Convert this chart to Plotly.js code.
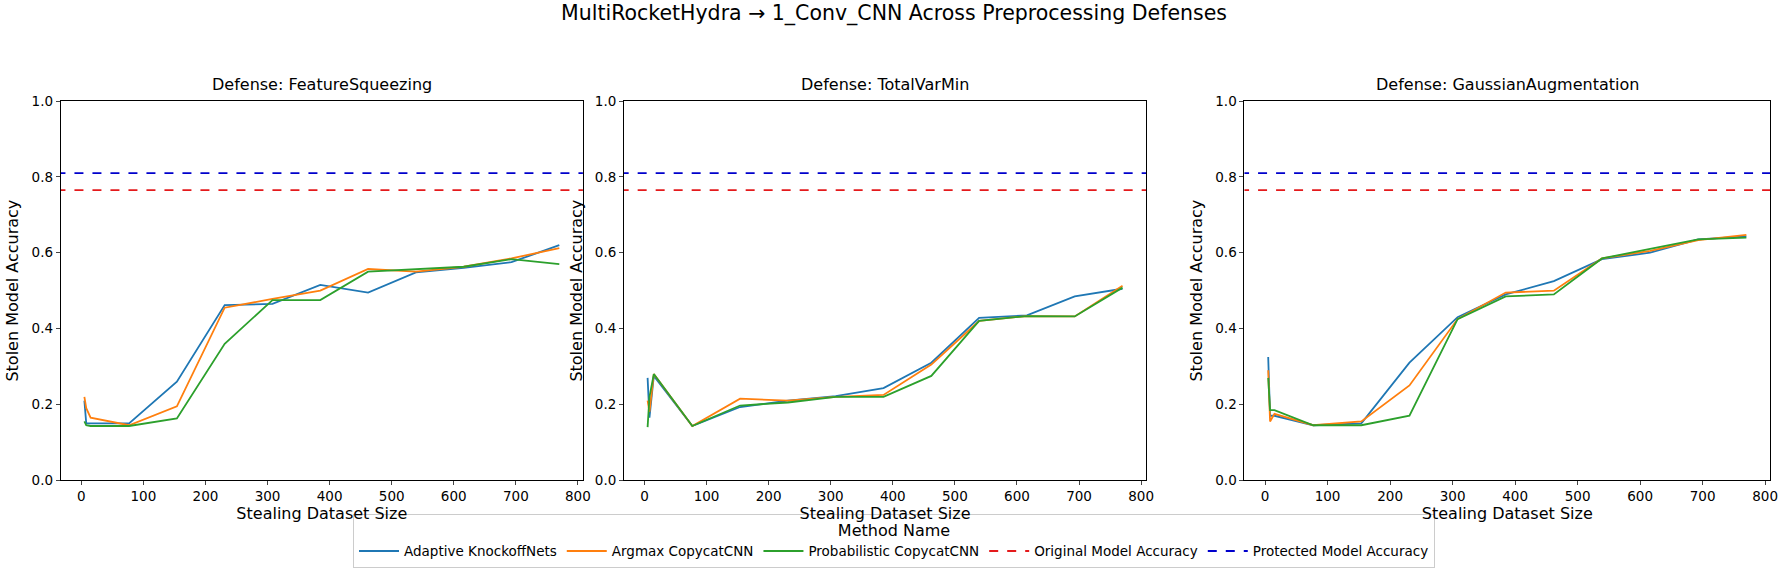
<!DOCTYPE html>
<html>
<head>
<meta charset="utf-8">
<script src="https://cdn.plot.ly/plotly-3.0.1.min.js"></script>
<style>body{margin:0}#chart{width:1788px;height:571px}</style>
</head>
<body>
<div id="chart"></div>
<script>
const sizes = [5, 8, 15, 77, 154, 231, 308, 385, 462, 539, 616, 693, 770]
const defenses = ['FeatureSqueezing', 'TotalVarMin', 'GaussianAugmentation']
const methods = ['Adaptive KnockoffNets', 'Argmax CopycatCNN', 'Probabilistic CopycatCNN']
const colors = ['#1f77b4', '#ff7f0e', '#2ca02c']

const featureSqueezing = [
  [0.21, 0.15, 0.15, 0.15, 0.26, 0.462, 0.465, 0.515, 0.495, 0.548, 0.56, 0.575, 0.62],
  [0.22, 0.19, 0.165, 0.145, 0.195, 0.455, 0.478, 0.5, 0.557, 0.55, 0.563, 0.585, 0.612],
  [0.155, 0.145, 0.143, 0.143, 0.163, 0.36, 0.475, 0.475, 0.55, 0.557, 0.563, 0.583, 0.57],
]
const totalVarMin = [
  [0.27, 0.165, 0.275, 0.143, 0.193, 0.21, 0.222, 0.243, 0.31, 0.428, 0.435, 0.485, 0.505],
  [0.21, 0.18, 0.28, 0.143, 0.215, 0.21, 0.22, 0.225, 0.305, 0.42, 0.433, 0.432, 0.513],
  [0.14, 0.22, 0.28, 0.143, 0.197, 0.205, 0.22, 0.22, 0.275, 0.42, 0.433, 0.432, 0.508],
]
const gaussianAugmentation = [
  [0.325, 0.17, 0.17, 0.145, 0.15, 0.31, 0.43, 0.49, 0.525, 0.583, 0.6, 0.635, 0.643],
  [0.29, 0.155, 0.175, 0.145, 0.155, 0.25, 0.425, 0.495, 0.5, 0.585, 0.605, 0.633, 0.647],
  [0.27, 0.185, 0.185, 0.145, 0.145, 0.17, 0.425, 0.485, 0.49, 0.585, 0.61, 0.635, 0.64],
]
const originalAcc = 0.765
const protectedAcc = 0.81

const results = [featureSqueezing, totalVarMin, gaussianAugmentation]
const domains = [[0.034, 0.326], [0.349, 0.641], [0.696, 0.990]]
const font = { family: 'DejaVu Sans', size: 13.5, color: '#000' }

const traces = []
const layout = {
  width: 1788, height: 571,
  margin: { l: 0, r: 0, t: 0, b: 0 },
  paper_bgcolor: '#fff', plot_bgcolor: '#fff',
  font,
  showlegend: true,
  legend: {
    orientation: 'h', x: 0.5, xanchor: 'center', y: 0.1, yanchor: 'top',
    bordercolor: '#ccc', borderwidth: 1, font: { size: 13.5 }, itemwidth: 40,
    title: { text: 'Method Name', side: 'top center' },
  },
  title: { text: 'MultiRocketHydra → 1_Conv_CNN Across Preprocessing Defenses', x: 0.5, y: 0.99, yanchor: 'top', font: { size: 20.5 } },
  annotations: [],
}

defenses.forEach((d, k) => {
  const ax = k === 0 ? '' : String(k + 1)
  results[k].forEach((ys, m) => {
    traces.push({
      x: sizes, y: ys, type: 'scatter', mode: 'lines', name: methods[m],
      line: { color: colors[m], width: 1.8 }, xaxis: 'x' + ax, yaxis: 'y' + ax, showlegend: k === 0,
    })
  })
  traces.push({ x: [-40, 810], y: [originalAcc, originalAcc], type: 'scatter', mode: 'lines', name: 'Original Model Accuracy',
    line: { color: '#e41a1c', width: 1.8, dash: 'dash' }, xaxis: 'x' + ax, yaxis: 'y' + ax, showlegend: k === 0 })
  traces.push({ x: [-40, 810], y: [protectedAcc, protectedAcc], type: 'scatter', mode: 'lines', name: 'Protected Model Accuracy',
    line: { color: '#0000cc', width: 1.8, dash: 'dash' }, xaxis: 'x' + ax, yaxis: 'y' + ax, showlegend: k === 0 })
  layout['xaxis' + ax] = {
    domain: domains[k], anchor: 'y' + ax, range: [-33, 808], tickvals: [0, 100, 200, 300, 400, 500, 600, 700, 800],
    showgrid: false, zeroline: false, showline: true, mirror: true, linecolor: '#000', ticks: 'outside', ticklen: 4,
    title: { text: 'Stealing Dataset Size', standoff: 4 },
  }
  layout['yaxis' + ax] = {
    domain: [0.159, 0.823], anchor: 'x' + ax, range: [0, 1], dtick: 0.2, tickformat: '.1f',
    showgrid: false, zeroline: false, showline: true, mirror: true, linecolor: '#000', ticks: 'outside', ticklen: 4,
    title: { text: 'Stolen Model Accuracy', standoff: 8 },
  }
  layout.annotations.push({
    text: 'Defense: ' + d, xref: 'paper', yref: 'paper', x: (domains[k][0] + domains[k][1]) / 2, y: 0.832,
    xanchor: 'center', yanchor: 'bottom', showarrow: false, font: { size: 16 },
  })
})

Plotly.newPlot('chart', traces, layout, { displayModeBar: false })
</script>
</body>
</html>
